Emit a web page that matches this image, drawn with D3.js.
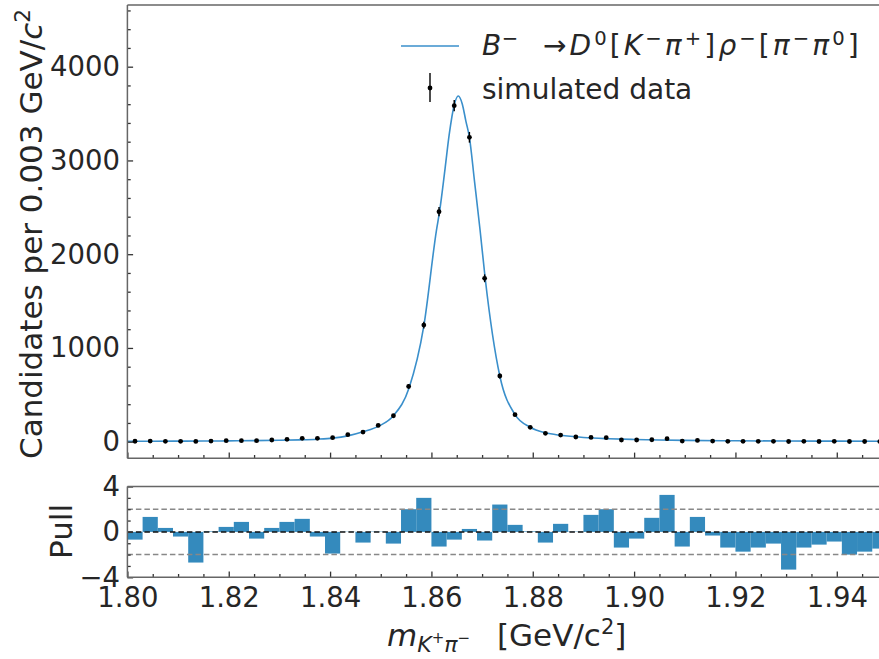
<!DOCTYPE html>
<html><head><meta charset="utf-8">
<script src="https://cdn.jsdelivr.net/npm/d3@7"></script>
<style>body{margin:0;background:#fff} svg{display:block} text{font-family:"DejaVu Sans";fill:#262626}</style>
</head><body><svg id="c" width="879" height="659"></svg>
<script>
// ---- data ----
const massCenters = [1.8015,1.8045,1.8075,1.8105,1.8135,1.8165,1.8195,1.8225,1.8255,1.8285,1.8315,1.8345,1.8375,1.8405,1.8435,1.8465,1.8495,1.8525,1.8555,1.8585,1.8615,1.8645,1.8675,1.8705,1.8735,1.8765,1.8795,1.8825,1.8855,1.8885,1.8915,1.8945,1.8975,1.9005,1.9035,1.9065,1.9095,1.9125,1.9155,1.9185,1.9215,1.9245,1.9275,1.9305,1.9335,1.9365,1.9395,1.9425,1.9455,1.9485];
const counts = [5,7,4,4,3,7,11,11,11,18,25,36,36,43,75,103,174,277,590,1244,2453,3584,3247,1743,701,288,153,89,71,50,46,43,18,18,21,32,7,14,7,4,4,4,4,2,4,2,4,2,2,2];
const countErrors = [2.2,2.6,2,2,1.7,2.6,3.3,3.3,3.3,4.2,5,6,6,6.6,8.7,10.1,13.2,16.6,24.3,35.3,49.5,59.9,57,41.7,26.5,17,12.4,9.4,8.4,7.1,6.8,6.6,4.2,4.2,4.6,5.7,2.6,3.7,2.6,2,2,2,2,1.4,2,1.4,2,1.4,1.4,1.4];
const pulls = [-0.68,1.32,0.35,-0.41,-2.7,0.05,0.44,0.88,-0.59,0.35,0.88,1.15,-0.41,-1.91,0.02,-0.94,0.03,-1.03,2.0,3.0,-1.29,-0.68,0.26,-0.76,2.41,0.62,0.05,-0.94,0.71,0.03,1.5,2.0,-1.38,-0.59,1.24,3.26,-1.29,1.32,-0.32,-1.38,-1.74,-1.38,-1.03,-3.32,-1.38,-1.12,-0.85,-2.0,-1.74,-1.47];
const curveMass = [1.800,1.805,1.810,1.815,1.820,1.825,1.830,1.834,1.8375,1.8405,1.8435,1.8465,1.8498,1.8525,1.8556,1.8585,1.8610,1.8616,1.8627,1.8635,1.8645,1.8653,1.8661,1.8668,1.8675,1.8685,1.8696,1.8706,1.8735,1.8765,1.8795,1.8825,1.8855,1.890,1.895,1.900,1.905,1.910,1.920,1.930,1.940,1.950];
const curveValues = [4,5,6,7,9,11,15,20,27,38,62,105,171,277,575,1235,2258,2453,2916,3272,3592,3687,3600,3420,3247,2780,2258,1749,701,288,154,95,68,45,32,24,18,14,10,7,6,5];
const binWidth = 0.003;
const xTicks = [1.80,1.82,1.84,1.86,1.88,1.90,1.92,1.94];
const xTickLabels = ["1.80","1.82","1.84","1.86","1.88","1.90","1.92","1.94"];
const xMinor = [1.805,1.81,1.815,1.825,1.83,1.835,1.845,1.85,1.855,1.865,1.87,1.875,1.885,1.89,1.895,1.905,1.91,1.915,1.925,1.93,1.935,1.945];
const yTicksMain = [0,1000,2000,3000,4000];
const yMinorMain = [200,400,600,800,1200,1400,1600,1800,2200,2400,2600,2800,3200,3400,3600,3800,4200,4400,4600];
const pullTicks = [-4,0,4];
const pullTickLabels = ["\u22124","0","4"];
const pullMinor = [-3,-2,-1,1,2,3];
const pullGuides = [-2,2];

// ---- layout ----
const L = 127.4, R = 887.45;
const mainTop = 5, mainBot = 458.3, pullTop = 486.5, pullBot = 577.3;
const lineColor = "#3a8fcb", barColor = "#348abd", spineColor = "#666", tickColor = "#333";
const tickFont = 27.5, titleFont = 31;

const svg = d3.select("#c");
const x = d3.scaleLinear().domain([1.80, 1.95]).range([L, R]);
const y = d3.scaleLinear().domain([-177, 4658]).range([mainBot, mainTop]);
const yp = d3.scaleLinear().domain([-4, 4]).range([pullBot, pullTop]);

function style(g) {
  g.select(".domain").remove();
  g.attr("font-family", "DejaVu Sans").attr("font-size", tickFont);
  g.selectAll("line").attr("stroke", tickColor).attr("stroke-width", 1.3);
  g.selectAll("text").attr("fill", "#262626");
}

// ---- main panel ----
const curve = curveMass.map((m, i) => [m, curveValues[i]]);
svg.append("path").datum(curve)
  .attr("fill", "none").attr("stroke", lineColor).attr("stroke-width", 1.6)
  .attr("d", d3.line().x(d => x(d[0])).y(d => y(d[1])).curve(d3.curveMonotoneX));

const pts = svg.append("g");
pts.selectAll("line").data(massCenters).join("line")
  .attr("x1", d => x(d)).attr("x2", d => x(d))
  .attr("y1", (d, i) => y(counts[i] - countErrors[i]))
  .attr("y2", (d, i) => y(counts[i] + countErrors[i]))
  .attr("stroke", "#000").attr("stroke-width", 1.4);
pts.selectAll("circle").data(massCenters).join("circle")
  .attr("cx", d => x(d)).attr("cy", (d, i) => y(counts[i])).attr("r", 2.4).attr("fill", "#000");

svg.append("g").attr("transform", `translate(0,${mainBot})`)
  .call(d3.axisBottom(x).tickValues(xTicks).tickSize(-5.7).tickFormat("")).call(style);
svg.append("g").attr("transform", `translate(0,${mainBot})`)
  .call(d3.axisBottom(x).tickValues(xMinor).tickSize(-3.3).tickFormat("")).call(style);
svg.append("g").attr("transform", `translate(${L},0)`)
  .call(d3.axisLeft(y).tickValues(yTicksMain).tickSize(-5.7).tickPadding(7.4).tickFormat(d3.format("d"))).call(style);
svg.append("g").attr("transform", `translate(${L},0)`)
  .call(d3.axisLeft(y).tickValues(yMinorMain).tickSize(-3.3).tickFormat("")).call(style);

[[L, mainTop, R, mainTop], [L, mainBot, R, mainBot], [L, mainTop, L, mainBot]].forEach(s =>
  svg.append("line").attr("x1", s[0]).attr("y1", s[1]).attr("x2", s[2]).attr("y2", s[3])
    .attr("stroke", spineColor).attr("stroke-width", 1.5));

// ---- pull panel ----
svg.append("g").selectAll("rect").data(massCenters).join("rect")
  .attr("x", d => x(d - binWidth / 2))
  .attr("width", d => x(d + binWidth / 2) - x(d - binWidth / 2))
  .attr("y", (d, i) => yp(Math.max(0, pulls[i])))
  .attr("height", (d, i) => Math.abs(yp(pulls[i]) - yp(0)))
  .attr("fill", barColor);

svg.append("g").selectAll("line").data(pullGuides).join("line")
  .attr("x1", L).attr("x2", R).attr("y1", d => yp(d)).attr("y2", d => yp(d))
  .attr("stroke", "#888").attr("stroke-width", 1.5).attr("stroke-dasharray", "5.5,3");
svg.append("line").attr("x1", L).attr("x2", R).attr("y1", yp(0)).attr("y2", yp(0))
  .attr("stroke", "#111").attr("stroke-width", 1.5).attr("stroke-dasharray", "5.5,3");

svg.append("g").attr("transform", `translate(0,${pullBot})`)
  .call(d3.axisBottom(x).tickValues(xTicks).tickSize(-5.7).tickPadding(10.5).tickFormat((d, i) => xTickLabels[i])).call(style);
svg.append("g").attr("transform", `translate(0,${pullBot})`)
  .call(d3.axisBottom(x).tickValues(xMinor).tickSize(-3.3).tickFormat("")).call(style);
svg.append("g").attr("transform", `translate(${L},0)`)
  .call(d3.axisLeft(yp).tickValues(pullTicks).tickSize(-5.7).tickPadding(7.4).tickFormat((d, i) => pullTickLabels[i])).call(style);
svg.append("g").attr("transform", `translate(${L},0)`)
  .call(d3.axisLeft(yp).tickValues(pullMinor).tickSize(-3.3).tickFormat("")).call(style);

[[L, pullTop, R, pullTop], [L, pullBot, R, pullBot], [L, pullTop, L, pullBot]].forEach(s =>
  svg.append("line").attr("x1", s[0]).attr("y1", s[1]).attr("x2", s[2]).attr("y2", s[3])
    .attr("stroke", spineColor).attr("stroke-width", 1.5));

// ---- titles ----
const yt = svg.append("text").attr("transform", "translate(42,234) rotate(-90)")
  .attr("text-anchor", "middle").attr("font-size", titleFont);
yt.append("tspan").text("Candidates per 0.003 GeV/");
yt.append("tspan").attr("font-style", "italic").text("c");
yt.append("tspan").attr("font-size", titleFont * 0.7).attr("dy", -12).text("2");

svg.append("text").attr("transform", "translate(71.5,531.5) rotate(-90)")
  .attr("text-anchor", "middle").attr("font-size", titleFont).text("Pull");

const xt = svg.append("text").attr("x", 387).attr("y", 646).attr("font-size", titleFont);
xt.append("tspan").attr("font-style", "italic").text("m");
xt.append("tspan").attr("font-style", "italic").attr("font-size", 22).attr("dy", 6).text("K");
xt.append("tspan").attr("font-size", 15).attr("dy", -9).text("+");
xt.append("tspan").attr("font-style", "italic").attr("font-size", 22).attr("dy", 9).text("\u03c0");
xt.append("tspan").attr("font-size", 15).attr("dy", -9).text("\u2212");
xt.append("tspan").attr("x", 497).attr("dy", 3).text("[GeV/c");
xt.append("tspan").attr("font-size", 21).attr("dy", -12).text("2");
xt.append("tspan").attr("dy", 12).text("]");

// ---- legend ----
svg.append("line").attr("x1", 401).attr("x2", 459).attr("y1", 46).attr("y2", 46)
  .attr("stroke", lineColor).attr("stroke-width", 1.6);
svg.append("line").attr("x1", 430).attr("x2", 430).attr("y1", 73).attr("y2", 102)
  .attr("stroke", "#000").attr("stroke-width", 1.4);
svg.append("circle").attr("cx", 430).attr("cy", 88).attr("r", 2.4).attr("fill", "#000");

// legend math label: [text, italic, superscript]
const legendHead = [["B", true, false], ["\u2212", false, true]];
const legendTail = [
  ["\u2192", false, false], ["D", true, false], ["0", false, true], ["[", false, false],
  ["K", true, false], ["\u2212", false, true], ["\u03c0", true, false], ["+", false, true],
  ["]", false, false], ["\u03c1", true, false], ["\u2212", false, true], ["[", false, false],
  ["\u03c0", true, false], ["\u2212", false, true], ["\u03c0", true, false], ["0", false, true],
  ["]", false, false]
];
const rise = 10;
const lt = svg.append("text").attr("x", 482).attr("y", 55).attr("font-size", 28);
let raised = false;
function addGlyph(d, first, spacing) {
  const t = lt.append("tspan").text(d[0])
    .attr("font-style", d[1] ? "italic" : "normal")
    .attr("font-size", d[2] ? 19.6 : 28)
    .attr("letter-spacing", spacing);
  const dy = d[2] ? (raised ? 0 : -rise) : (raised ? rise : 0);
  raised = d[2];
  t.attr("dy", dy);
  if (first) t.attr("x", 543);
}
legendHead.forEach(d => addGlyph(d, false, 0.5));
legendTail.forEach((d, i) => addGlyph(d, i === 0, 3.1));

svg.append("text").attr("x", 482).attr("y", 98.5).attr("font-size", 28).text("simulated data");
</script></body></html>
